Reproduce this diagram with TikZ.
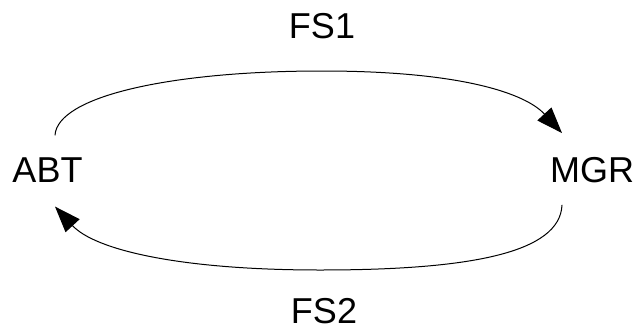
\documentclass[tikz,border=0pt]{standalone}
\usepackage{fontspec}
\setmainfont{Liberation Sans}
\usetikzlibrary{arrows.meta}
\begin{document}
\begin{tikzpicture}[x=1bp,y=1bp,
  lbl/.style={inner sep=0pt,font=\fontsize{36bp}{40bp}\selectfont},
  arr/.style={line width=1bp,-{Triangle[length=26bp,width=19bp]}}]
\useasboundingbox (0,0) rectangle (637,328);
\node[lbl] (ABT) at (47.5,158) {ABT};
\node[lbl] (MGR) at (592,158) {MGR};
\node[lbl] (FS1) at (322,301.5) {FS1};
\node[lbl] (FS2) at (324,16.5) {FS2};
\coordinate (topmid) at (322,257);
\coordinate (botmid) at (320,58);
\draw[arr] ([shift={(7.5,22)}]ABT.north) .. controls +(2,39) and (170,257) .. (topmid)
  .. controls (460,257) and (525,235) .. ([shift={(-30,24)}]MGR.north);
\draw[arr] ([shift={(-30,-22)}]MGR.south) .. controls +(-2,-48) and (470,58) .. (botmid)
  .. controls (180,58) and (95,78) .. ([shift={(7.5,-24)}]ABT.south);
\end{tikzpicture}
\end{document}
